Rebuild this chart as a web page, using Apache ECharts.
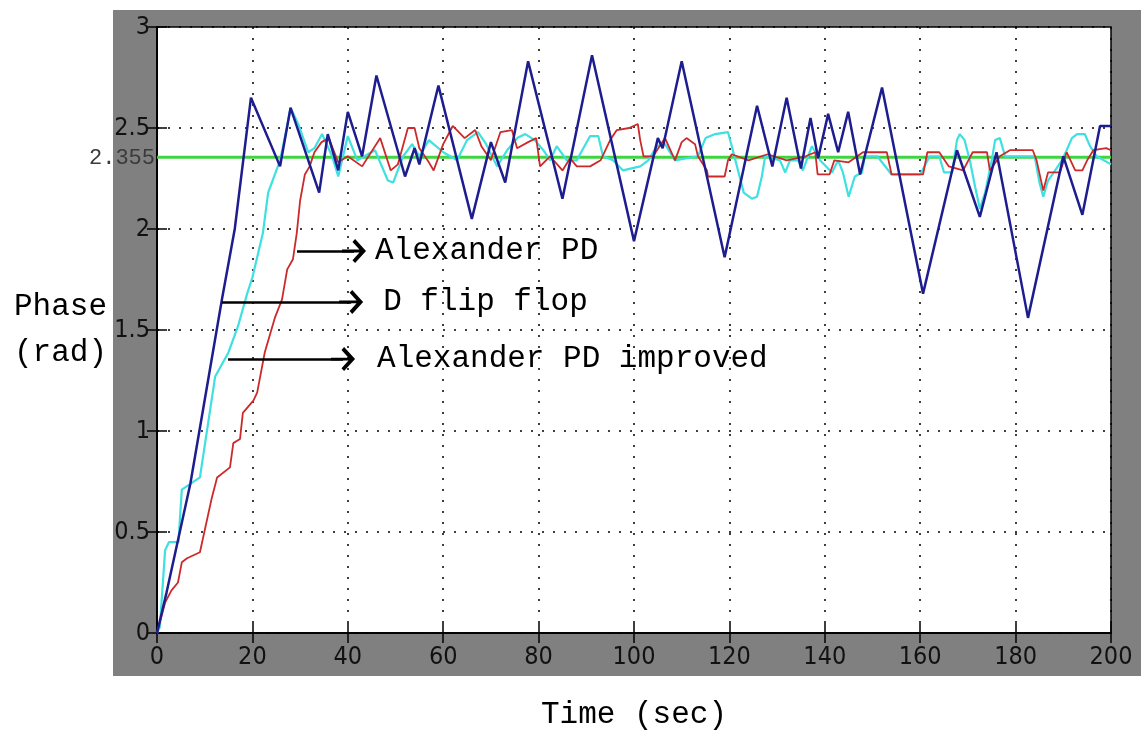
<!DOCTYPE html>
<html>
<head>
<meta charset="utf-8">
<script src="https://cdn.jsdelivr.net/npm/echarts@6/dist/echarts.min.js"></script>
<style>
  html, body { margin: 0; padding: 0; background: #fff; }
  #frame { position: absolute; left: 113px; top: 10px; width: 1028px; height: 666px; background: #808080; }
  #chart { position: absolute; left: 0; top: 0; width: 1141px; height: 730px; }
</style>
</head>
<body>
<div id="frame"></div>
<div id="chart"></div>
<script>
// D flip flop (blue)
var dffTime = [0, 2, 7, 13.6, 16.3, 19.7, 25.8, 28, 34, 35.8, 38, 40, 43, 46, 52, 54, 55, 59, 66, 70, 73, 77.8, 85, 91.2, 100, 105, 106, 110, 119, 125.8, 129, 132, 135, 137, 138.6, 140.7, 142.8, 144.9, 147.4, 152, 160.6, 167.7, 172.5, 176, 182.6, 190, 194, 197.7, 200]
var dffPhase = [0, 0.2, 0.74, 1.65, 2.0, 2.65, 2.31, 2.6, 2.18, 2.47, 2.29, 2.58, 2.36, 2.76, 2.26, 2.4, 2.32, 2.71, 2.05, 2.43, 2.23, 2.83, 2.15, 2.86, 1.94, 2.45, 2.40, 2.83, 1.86, 2.61, 2.31, 2.65, 2.30, 2.55, 2.35, 2.57, 2.38, 2.58, 2.27, 2.70, 1.68, 2.39, 2.06, 2.38, 1.56, 2.36, 2.07, 2.51, 2.51]

// Alexander PD (red)
var alexTime = [0, 1.7, 3, 4.4, 5.2, 6.3, 9, 11.5, 12.6, 15.3, 16, 17.4, 18, 20.2, 21, 22.6, 24.7, 26.2, 27.3, 28.5, 29.3, 30, 31, 32, 33, 34.5, 36, 38, 40, 43, 46.8, 49, 50.5, 52.6, 54, 55, 57, 58, 60, 62, 64.5, 66.7, 68, 70, 72, 74.4, 75.5, 77.8, 79.5, 80.3, 82.4, 85, 86.6, 88, 90.8, 93, 95, 96.4, 99, 100.8, 101.3, 102, 104, 106.5, 108.6, 110, 111, 112.8, 113.4, 115.3, 115.5, 119, 119.7, 120.5, 124, 128, 132, 136, 138, 138.5, 141, 142, 145, 148, 153, 154, 160.6, 161.5, 164, 166, 169, 171, 174, 174.6, 176.7, 178.8, 183.6, 184.4, 185.8, 186.8, 189.3, 190.7, 192.5, 194, 195, 196.3, 199, 200]
var alexPhase = [0, 0.15, 0.21, 0.25, 0.35, 0.37, 0.40, 0.67, 0.77, 0.82, 0.94, 0.96, 1.09, 1.15, 1.19, 1.39, 1.56, 1.65, 1.80, 1.85, 1.98, 2.14, 2.27, 2.31, 2.38, 2.43, 2.45, 2.33, 2.36, 2.31, 2.45, 2.29, 2.32, 2.50, 2.50, 2.40, 2.33, 2.29, 2.42, 2.51, 2.45, 2.49, 2.41, 2.34, 2.48, 2.49, 2.40, 2.43, 2.45, 2.31, 2.36, 2.29, 2.35, 2.31, 2.31, 2.34, 2.44, 2.49, 2.50, 2.52, 2.44, 2.36, 2.36, 2.45, 2.34, 2.43, 2.45, 2.42, 2.36, 2.29, 2.26, 2.26, 2.34, 2.37, 2.34, 2.37, 2.34, 2.36, 2.38, 2.27, 2.27, 2.34, 2.33, 2.38, 2.38, 2.27, 2.27, 2.38, 2.38, 2.31, 2.29, 2.38, 2.38, 2.29, 2.36, 2.39, 2.39, 2.34, 2.19, 2.28, 2.28, 2.38, 2.29, 2.29, 2.34, 2.39, 2.40, 2.39]

// Alexander PD improved (cyan)
var impTime = [0, 0.6, 1.7, 2.5, 4.5, 5.2, 9, 12.2, 15, 17, 18.9, 20, 22.2, 23.3, 25.8, 27.2, 28, 29.6, 31.7, 33, 34.6, 36.7, 38, 40, 42, 45.7, 48.4, 49.5, 51.6, 53.5, 55, 57, 60, 62.9, 65, 67.3, 69, 71.3, 73.4, 75.5, 77.2, 79.2, 81, 82.4, 83.8, 85.9, 88, 90.8, 92.5, 93.5, 95.6, 97.7, 101.3, 103, 104.8, 106.5, 108.6, 113.4, 115, 117, 119.7, 120.5, 123, 124.7, 125.8, 126.8, 127.5, 130.6, 131.7, 132.7, 134.4, 135.4, 137.3, 139, 141.5, 142.8, 143.8, 145, 146.3, 147.8, 148.4, 151, 154, 160, 162, 164, 165, 166.7, 167.7, 168.3, 169.3, 170.4, 171.5, 172.5, 173.6, 175, 175.7, 176.7, 177.8, 184, 185, 185.8, 186.8, 188, 189.7, 190.7, 191.8, 192.9, 194.5, 195.6, 197, 200]
var impPhase = [0, 0.03, 0.41, 0.45, 0.45, 0.71, 0.77, 1.27, 1.39, 1.52, 1.68, 1.76, 1.98, 2.18, 2.34, 2.5, 2.6, 2.52, 2.38, 2.40, 2.47, 2.36, 2.26, 2.46, 2.34, 2.39, 2.24, 2.23, 2.36, 2.42, 2.36, 2.44, 2.38, 2.34, 2.44, 2.48, 2.42, 2.31, 2.39, 2.45, 2.47, 2.44, 2.39, 2.34, 2.41, 2.34, 2.34, 2.46, 2.46, 2.36, 2.34, 2.29, 2.31, 2.34, 2.41, 2.42, 2.34, 2.36, 2.45, 2.47, 2.48, 2.41, 2.18, 2.15, 2.16, 2.26, 2.36, 2.34, 2.28, 2.34, 2.34, 2.29, 2.41, 2.34, 2.28, 2.34, 2.28, 2.16, 2.26, 2.28, 2.36, 2.36, 2.27, 2.27, 2.36, 2.36, 2.28, 2.28, 2.44, 2.47, 2.44, 2.34, 2.21, 2.10, 2.18, 2.34, 2.44, 2.45, 2.36, 2.36, 2.23, 2.16, 2.24, 2.28, 2.34, 2.39, 2.45, 2.47, 2.47, 2.41, 2.36, 2.32]

var targetPhase = 2.355

// annotation arrows
var arrowLabels = ['Alexander PD', 'D flip flop', 'Alexander PD improved']
var arrowStart = [29.35, 13.6, 14.9]
var arrowEnd = [41.3, 40.7, 39.0]
var arrowPhase = [1.891, 1.639, 1.356]
var arrowGap = [21, 32, 34]

function zip(t, v) {
  var out = []
  for (var i = 0; i < t.length; i++) out.push([t[i], v[i]])
  return out
}

var mono = '"Liberation Mono", "Courier New", monospace'
var narrow = '"Liberation Sans Narrow", "DejaVu Sans Condensed", "Liberation Sans", sans-serif'
// open chevron head with a short shaft, apex on top
var chevron = 'path://M0,0L10,10L7.6,12.4L1.2,6L1.2,22L-1.2,22L-1.2,6L-7.6,12.4L-10,10Z'

var arrowData = []
for (var i = 0; i < arrowLabels.length; i++) {
  arrowData.push([
    { coord: [arrowStart[i], arrowPhase[i]], symbol: 'none' },
    {
      coord: [arrowEnd[i], arrowPhase[i]],
      symbol: chevron,
      symbolSize: [24, 24],
      label: { show: true, position: 'end', distance: arrowGap[i], formatter: arrowLabels[i] }
    }
  ])
}

var chart = echarts.init(document.getElementById('chart'))
var option = {
  animation: false,
  backgroundColor: 'transparent',
  grid: {
    left: 157, top: 27, right: 30, bottom: 97,
    outerBoundsMode: 'none',
    show: true, backgroundColor: '#fff', borderColor: '#000', borderWidth: 1.5
  },
  xAxis: [
    {
      type: 'value', min: 0, max: 200, interval: 20,
      name: 'Time (sec)', nameLocation: 'middle', nameGap: 66,
      nameTextStyle: { fontFamily: mono, fontSize: 31, color: '#000' },
      axisLine: { show: true, onZero: false, lineStyle: { color: '#000', width: 1.5 } },
      axisTick: { show: true, inside: true, length: 10, lineStyle: { color: '#000', width: 1.5 } },
      axisLabel: { fontFamily: narrow, fontSize: 25, color: '#111', margin: 12 },
      splitLine: { show: true, lineStyle: { color: '#000', type: [2, 9], width: 1.5 } }
    },
    {
      type: 'value', min: 0, max: 200, interval: 20, position: 'top',
      axisLine: { show: true, lineStyle: { color: '#000', width: 1.5 } },
      axisTick: { show: true, inside: true, length: 10, lineStyle: { color: '#000', width: 1.5 } },
      axisLabel: { show: false },
      splitLine: { show: false }
    }
  ],
  yAxis: [
    {
      type: 'value', min: 0, max: 3, interval: 0.5,
      name: 'Phase\n(rad)', nameLocation: 'middle', nameRotate: 0, nameGap: 50,
      nameTextStyle: { fontFamily: mono, fontSize: 31, color: '#000', lineHeight: 46, align: 'right' },
      axisLine: { show: true, onZero: false, lineStyle: { color: '#000', width: 1.5 } },
      axisTick: { show: true, inside: true, length: 10, lineStyle: { color: '#000', width: 1.5 } },
      axisLabel: { fontFamily: narrow, fontSize: 25, color: '#111', margin: 7 },
      splitLine: { show: true, lineStyle: { color: '#000', type: [2, 9], width: 1.5 } }
    },
    {
      type: 'value', min: 0, max: 3, interval: 0.5, position: 'right',
      axisLine: { show: true, lineStyle: { color: '#000', width: 1.5 } },
      axisTick: { show: true, inside: true, length: 10, lineStyle: { color: '#000', width: 1.5 } },
      axisLabel: { show: false },
      splitLine: { show: false }
    }
  ],
  series: [
    {
      name: 'target', type: 'line', symbol: 'none', silent: true,
      data: [[0, targetPhase], [200, targetPhase]],
      lineStyle: { color: '#3fd53f', width: 3 },
      markLine: {
        silent: true, symbol: 'none',
        lineStyle: { color: 'rgba(0,0,0,0)', width: 0 },
        label: {
          show: true, position: 'start', distance: 2, formatter: String(targetPhase),
          fontFamily: mono, fontSize: 22, color: '#3a3a3a'
        },
        data: [{ yAxis: targetPhase }]
      }
    },
    {
      name: 'Alexander PD improved', type: 'line', symbol: 'none',
      data: zip(impTime, impPhase),
      lineStyle: { color: '#3fe0e0', width: 2.2 }
    },
    {
      name: 'Alexander PD', type: 'line', symbol: 'none',
      data: zip(alexTime, alexPhase),
      lineStyle: { color: '#cc2a2a', width: 1.8 }
    },
    {
      name: 'D flip flop', type: 'line', symbol: 'none',
      data: zip(dffTime, dffPhase),
      lineStyle: { color: '#1d1d8f', width: 2.5 },
      markLine: {
        silent: true, animation: false,
        lineStyle: { color: '#000', width: 2.6, type: 'solid' },
        itemStyle: { color: '#000' },
        label: { fontFamily: mono, fontSize: 31, color: '#000', padding: [10, 0, 0, 0] },
        data: arrowData
      }
    }
  ]
}
chart.setOption(option)
</script>
</body>
</html>
